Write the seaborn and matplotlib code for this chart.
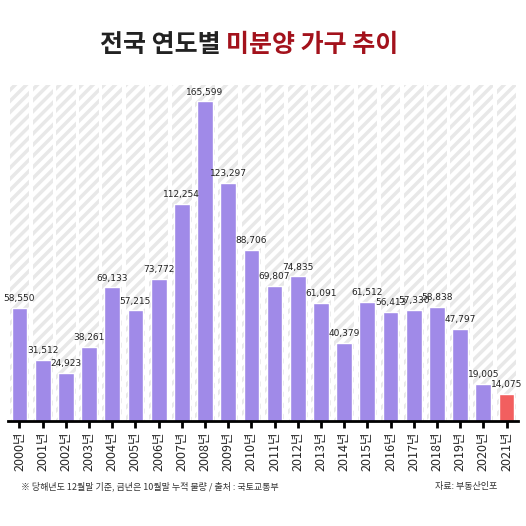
import matplotlib
matplotlib.use("Agg")
import matplotlib.pyplot as plt
import seaborn as sns
import pandas as pd

years = [f"{y}년" for y in range(2000, 2022)]
values = [58550, 31512, 24923, 38261, 69133, 57215, 73772, 112254, 165599, 123297,
          88706, 69807, 74835, 61091, 40379, 61512, 56413, 57330, 58838, 47797, 19005, 14075]
labels = [f"{v:,}" for v in values]

sns.set_theme(style="white")
plt.rcParams['font.family'] = ['Noto Sans CJK KR', 'DejaVu Sans']
plt.rcParams['hatch.color'] = '#e8e8e8'
plt.rcParams['hatch.linewidth'] = 2.5

df = pd.DataFrame({"year": years, "value": values})
colors = ['#a08ae8'] * 21 + ['#f25f5f']

fig = plt.figure(figsize=(5.26, 5.26), dpi=100)
ax = fig.add_axes([0.015, 0.2, 0.97, 0.638])
ymax = 174000
ax.bar(range(len(years)), [ymax] * len(years), width=0.85, color='white',
       edgecolor='#e8e8e8', hatch='///', linewidth=0, zorder=0)
sns.barplot(data=df, x="year", y="value", hue="year", palette=colors, legend=False,
            width=0.68, ax=ax, zorder=2, saturation=1)
for i, (v, t) in enumerate(zip(values, labels)):
    ax.text(i, v + 2500, t, ha='center', va='bottom', fontsize=6.5, color='#222222',
            family=['Liberation Sans Narrow', 'DejaVu Sans'])
ax.set_ylim(0, ymax)
ax.set_xlim(-0.5, len(years) - 0.5)
ax.set_xlabel("")
ax.set_ylabel("")
ax.set_yticks([])
for s in ['top', 'right', 'left']:
    ax.spines[s].set_visible(False)
ax.spines['bottom'].set_color('black')
ax.spines['bottom'].set_linewidth(2)
ax.set_xticks(range(len(years)))
ax.set_xticklabels(years, rotation=90, fontsize=9)
ax.tick_params(axis='x', bottom=True, length=5, width=2, color='black', pad=3)

t1 = fig.text(0.19, 0.915, "전국 연도별 ", fontsize=18, fontweight='bold', color='#222222',
              ha='left', va='center')
fig.canvas.draw()
bb = t1.get_window_extent()
x2 = bb.x1 / fig.bbox.width
fig.text(x2, 0.915, "미분양 가구 추이", fontsize=18, fontweight='bold', color='#a3121c',
         ha='left', va='center')

fig.text(0.04, 0.075, "※ 당해년도 12월말 기준, 금년은 10월말 누적 물량 / 출처 : 국토교통부",
         fontsize=6.5, color='#333333', va='center')
fig.text(0.945, 0.075, "자료: 부동산인포", fontsize=6.5, color='#333333', va='center', ha='right')

fig.savefig("out.png", dpi=100)
